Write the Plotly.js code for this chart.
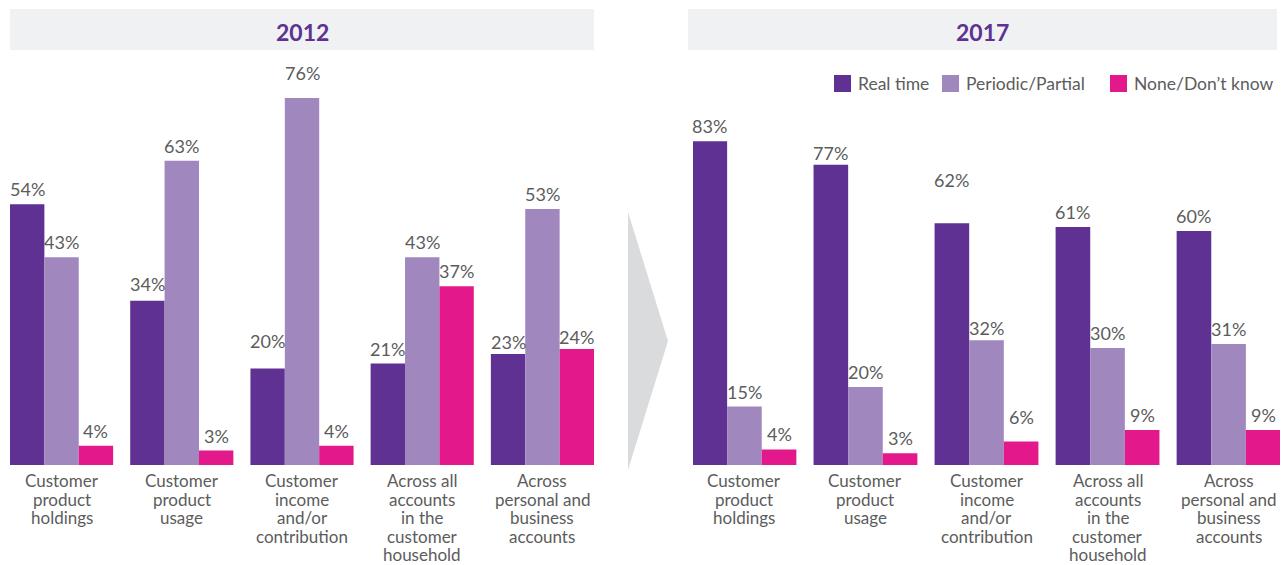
<!DOCTYPE html>
<html>
<head>
<meta charset="utf-8">
<script src="https://cdn.plot.ly/plotly-3.0.1.min.js"></script>
<style>html,body{margin:0;padding:0;background:#fff;}#chart{width:1286px;height:565px;}</style>
</head>
<body>
<div id="chart"></div>
<script>
// ---- data ----
var categories = ["Customer<br>product<br>holdings", "Customer<br>product<br>usage", "Customer<br>income<br>and/or<br>contribution", "Across all<br>accounts<br>in the<br>customer<br>household", "Across<br>personal and<br>business<br>accounts"];
var seriesNames = ["Real time", "Periodic/Partial", "None/Don\u2019t know"];
var panelTitles = ["2012", "2017"];
var real2012 = [54, 34, 20, 21, 23];
var periodic2012 = [43, 63, 76, 43, 53];
var none2012 = [4, 3, 4, 37, 24];
var real2017 = [83, 77, 62, 61, 60];
var periodic2017 = [15, 20, 32, 30, 31];
var none2017 = [4, 3, 6, 9, 9];

// ---- styles ----
var colors = ["#5e3192", "#a088bf", "#e3198b"];
var textGray = "#5c5c5c";
var FONT = "Lato, sans-serif";
var W = 1286, H = 565;
function px(x){ return x / W; }
function py(y){ return (H - y) / H; }
// extra lift (px) of some value labels, as placed in the original artwork
var labelLift2012 = [[0, 2, 12, 0, -3], [0, 0, 10, 0, 0], [0, 0, 0, 0, -3]];
var labelLift2017 = [[0, -3, 28, 0, 0], [0, 0, -3, 0, 0], [0, 0, 10, 0, 0]];

var idx = categories.map(function(_, i){ return i; });
var panels = [
  {x: 'x', y: 'y', data: [real2012, periodic2012, none2012], lift: labelLift2012},
  {x: 'x2', y: 'y2', data: [real2017, periodic2017, none2017], lift: labelLift2017}
];
var BARGAP = 0.142;
var barW = (1 - BARGAP) / 3;
var traces = [];
var annotations = [], shapes = [];
panels.forEach(function(p){
  p.data.forEach(function(vals, s){
    traces.push({
      type: 'bar', x: idx, y: vals, name: seriesNames[s], xaxis: p.x, yaxis: p.y,
      marker: {color: colors[s]}, showlegend: false, hoverinfo: 'skip'
    });
    vals.forEach(function(v, i){
      annotations.push({xref: p.x, yref: p.y, x: i + (s - 1) * barW, y: v, text: v + '%',
        showarrow: false, xanchor: 'center', yanchor: 'bottom', yshift: 2 + p.lift[s][i],
        font: {family: FONT, size: 18, color: textGray}});
    });
  });
});

// panel titles
var titleBoxes = [[10, 594], [688, 1277]];
panelTitles.forEach(function(t, i){
  var b = titleBoxes[i];
  shapes.push({type: 'rect', xref: 'paper', yref: 'paper', x0: px(b[0]), x1: px(b[1]), y0: py(50), y1: py(9), fillcolor: '#f0f1f3', line: {width: 0}, layer: 'below'});
  annotations.push({xref: 'paper', yref: 'paper', x: px((b[0] + b[1]) / 2), y: py(32), text: '<b>' + t + '</b>', showarrow: false, xanchor: 'center', yanchor: 'middle', font: {family: FONT, size: 23, color: '#5e3192'}});
});
// category labels (one annotation per line for tight line spacing)
['x', 'x2'].forEach(function(ax){
  categories.forEach(function(c, i){
    c.split('<br>').forEach(function(line, k){
      annotations.push({xref: ax, yref: 'paper', x: i, y: py(480.5 + k * 18.5), text: line, showarrow: false, xanchor: 'center', yanchor: 'middle', font: {family: FONT, size: 17, color: textGray}});
    });
  });
});
// legend
var legendX = [834, 942, 1110];
seriesNames.forEach(function(n, s){
  var x0 = legendX[s];
  shapes.push({type: 'rect', xref: 'paper', yref: 'paper', x0: px(x0), x1: px(x0 + 17), y0: py(92), y1: py(75), fillcolor: colors[s], line: {width: 0}});
  annotations.push({xref: 'paper', yref: 'paper', x: px(x0 + 22), y: py(83.5), text: n, showarrow: false, xanchor: 'left', yanchor: 'middle', font: {family: FONT, size: 17.5, color: textGray}});
});
// arrow between panels
shapes.push({type: 'path', xref: 'paper', yref: 'paper',
  path: 'M ' + px(628) + ' ' + py(212) + ' L ' + px(668) + ' ' + py(341) + ' L ' + px(628) + ' ' + py(470) + ' Z',
  fillcolor: '#dadbdd', line: {width: 0}});

var axisBase = {showgrid: false, zeroline: false, showticklabels: false, showline: false, ticks: '', fixedrange: true};
var layout = {
  width: W, height: H, margin: {l: 0, r: 0, t: 0, b: 0},
  paper_bgcolor: '#fff', plot_bgcolor: 'rgba(0,0,0,0)',
  barmode: 'group', bargap: BARGAP, bargroupgap: 0,
  showlegend: false,
  xaxis: Object.assign({}, axisBase, {domain: [px(10), px(594)], range: [-0.429, 4.429], type: 'linear'}),
  xaxis2: Object.assign({}, axisBase, {domain: [px(693), px(1280)], range: [-0.425, 4.425], type: 'linear', anchor: 'y2'}),
  yaxis: Object.assign({}, axisBase, {domain: [py(465), 1], range: [0, 465 / 4.83]}),
  yaxis2: Object.assign({}, axisBase, {domain: [py(465), 1], range: [0, 465 / 3.9], anchor: 'x2'}),
  annotations: annotations, shapes: shapes,
  font: {family: FONT, color: textGray}
};
Plotly.newPlot('chart', traces, layout, {displayModeBar: false, staticPlot: true});
</script>
</body>
</html>
